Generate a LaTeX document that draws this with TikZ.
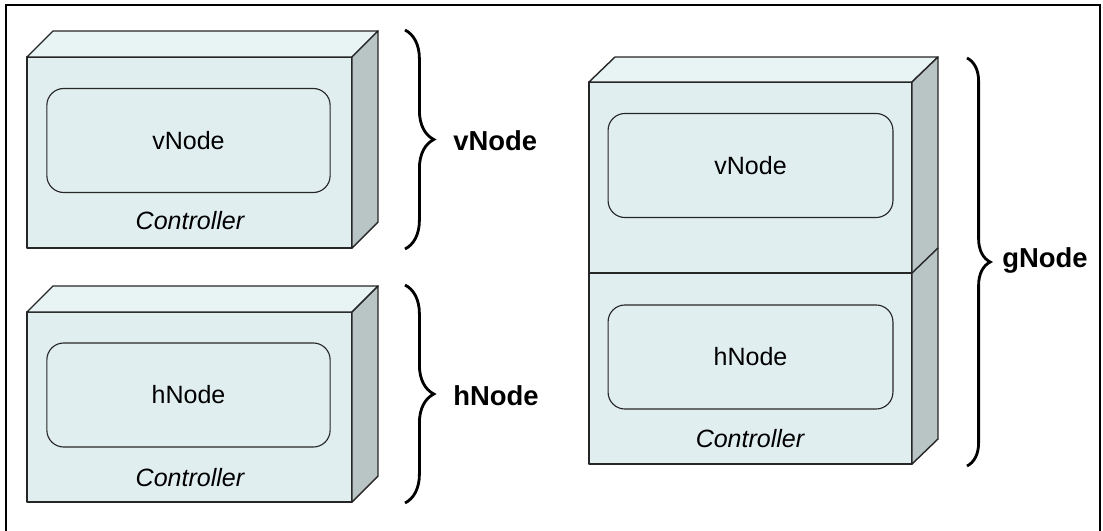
\documentclass[tikz,border=0pt]{standalone}
\usepackage{fontspec}
\setmainfont{Liberation Sans}
\usetikzlibrary{decorations.pathreplacing}
\definecolor{frontface}{RGB}{225,238,240}
\definecolor{topface}{RGB}{232,243,244}
\definecolor{sideface}{RGB}{185,196,197}
\tikzset{
	face/.style={draw=black!85,line width=1pt,line join=round},
	inner/.style={draw=black!85,line width=0.8pt,rounded corners=12pt,minimum height=2.6cm,font=\fontsize{17.8}{20}\selectfont},
	ctrl/.style={font=\fontsize{17.8}{20}\selectfont\itshape},
	label/.style={inner sep=0pt,anchor=base west,font=\fontsize{19.5}{22}\selectfont\bfseries},
	brace/.style={decorate,line width=2pt,decoration={brace}}
}
\begin{document}
\begin{tikzpicture}[x=0.025cm,y=-0.025cm]
	\useasboundingbox (0,0) rectangle (1103,531);
	\draw [line width=1pt] (6,531) -- (6,5) -- (1100,5) -- (1100,531);
	% controller with vNode
	\draw [face,fill=frontface] (27,57) rectangle (352,248);
	\draw [face,fill=topface] (27,57) -- (53,31) -- (378,31) -- (352,57) -- cycle;
	\draw [face,fill=sideface] (352,57) -- (378,31) -- (378,222) -- (352,248) -- cycle;
	\node [inner,minimum width=7.08cm] (vin) at (188.5,140.5) {vNode};
	\node [ctrl] (vctrl) at (190,221) {Controller};
	% controller with hNode
	\draw [face,fill=frontface] (27,312) rectangle (352,502);
	\draw [face,fill=topface] (27,312) -- (53,286) -- (378,286) -- (352,312) -- cycle;
	\draw [face,fill=sideface] (352,312) -- (378,286) -- (378,476) -- (352,502) -- cycle;
	\node [inner,minimum width=7.08cm] (hin) at (188.5,395) {hNode};
	\node [ctrl] (hctrl) at (190,478) {Controller};
	% controller with vNode and hNode
	\draw [face,fill=frontface] (589,82) rectangle (912,464);
	\draw [face] (589,273) -- (912,273);
	\draw [face,fill=topface] (589,82) -- (615,57) -- (938,57) -- (912,82) -- cycle;
	\draw [face,fill=sideface] (912,82) -- (938,57) -- (938,439) -- (912,464) -- cycle;
	\draw [face] (912,273) -- (938,248);
	\node [inner,minimum width=7.12cm] (gvin) at (750.5,165.5) {vNode};
	\node [inner,minimum width=7.12cm] (ghin) at (750.5,357) {hNode};
	\node [ctrl] (gctrl) at (750,439) {Controller};
	% braces
	\coordinate (vtop) at (405,30);
	\coordinate (vbot) at (405,249);
	\coordinate (htop) at (405,285);
	\coordinate (hbot) at (405,503);
	\coordinate (gtop) at (967,58);
	\coordinate (gbot) at (967,466);
	\draw [brace,decoration={amplitude=0.72cm}] (vtop) -- (vbot);
	\draw [brace,decoration={amplitude=0.72cm}] (htop) -- (hbot);
	\draw [brace,decoration={amplitude=0.58cm}] (gtop) -- (gbot);
	\node [label] (vlabel) at (453,151) {vNode};
	\node [label] (hlabel) at (453,405) {hNode};
	\node [label] (glabel) at (1002,267) {gNode};
\end{tikzpicture}
\end{document}
